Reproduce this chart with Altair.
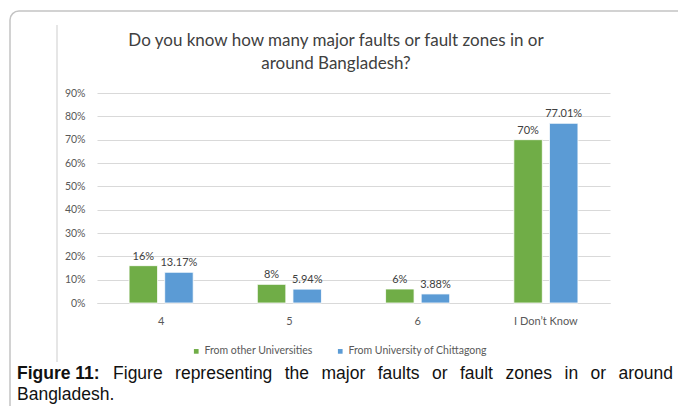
import altair as alt
import pandas as pd

# Survey answers: how many major faults / fault zones are in or around Bangladesh
categories = ["4", "5", "6", "I Don\u2019t Know"]
series_names = ["From other Universities", "From University of Chittagong"]
other_universities = [16, 8, 6, 70]
chittagong = [13.17, 5.94, 3.88, 77.01]
y_ticks = [0, 10, 20, 30, 40, 50, 60, 70, 80, 90]

title_lines = ["Do you know how many major faults or fault zones in or", "around Bangladesh?"]
caption_bold = "Figure 11:"
caption_line1 = ["Figure", "representing", "the", "major", "faults", "or",
                 "fault", "zones", "in", "or", "around"]
caption_line2 = "Bangladesh."

rows = []
for s, vals in zip(series_names, [other_universities, chittagong]):
    for c, v in zip(categories, vals):
        rows.append({"category": c, "series": s, "value": v / 100, "label": f"{v:g}%"})
df = pd.DataFrame(rows)

W, H = 513, 210          # plot area
PL, PT = 97, 93          # plot origin inside the page
FONT = "Lato"
GRAY = "#595959"

one = pd.DataFrame({"k": [0]})

x_enc = alt.X("category:N", sort=categories, title=None,
              scale=alt.Scale(paddingInner=0.5, paddingOuter=0.25),
              axis=alt.Axis(labelAngle=0, ticks=False, domainColor="#d9d9d9",
                            labelColor=GRAY, labelFont=FONT, labelFontSize=11,
                            labelPadding=12, grid=False))
y_enc = alt.Y("value:Q", title=None,
              scale=alt.Scale(domain=[0, 0.9], nice=False),
              axis=alt.Axis(values=[t / 100 for t in y_ticks], format=".0%",
                            ticks=False, domain=False, grid=True, gridColor="#d9d9d9",
                            labelOverlap=False, labelFlush=False,
                            labelColor=GRAY, labelFont=FONT, labelFontSize=10.5,
                            labelPadding=12))
off_enc = alt.XOffset("series:N", sort=series_names,
                      scale=alt.Scale(paddingInner=0.2, paddingOuter=0))

base = alt.Chart(df).encode(x=x_enc, xOffset=off_enc, y=y_enc)

bars = base.mark_bar(stroke="white", strokeWidth=0.8).encode(
    color=alt.Color("series:N", sort=series_names,
                    scale=alt.Scale(domain=series_names, range=["#70AD47", "#5B9BD5"]),
                    legend=alt.Legend(title=None, orient="none", direction="horizontal",
                                      legendX=94, legendY=253, symbolType="square",
                                      symbolSize=22, symbolStrokeWidth=0,
                                      labelFont=FONT, labelFontSize=10.5,
                                      labelColor=GRAY, columnPadding=22,
                                      symbolOffset=0, labelOffset=3)),
)

labels = base.mark_text(dy=-9, font=FONT, fontSize=11, color="#404040").encode(
    text="label:N",
)

frame = alt.Chart(one).mark_rect(fill="transparent", stroke="#c4c4c4",
                                 strokeWidth=1.5, cornerRadius=9).encode(
    x=alt.value(10 - PL), y=alt.value(11 - PT),
    x2=alt.value(760 - PL), y2=alt.value(500 - PT))

inner_edge = alt.Chart(one).mark_rule(color="#e6e6e6", strokeWidth=2).encode(
    x=alt.value(57 - PL), y=alt.value(25 - PT), y2=alt.value(362 - PT))

title = alt.Chart(one).mark_text(text=title_lines, font=FONT, fontSize=17,
                                 color="#404040", lineHeight=23, align="center",
                                 baseline="middle").encode(
    x=alt.value(336 - PL), y=alt.value(41 - PT))

# Justified caption: Arial/Liberation Sans advance widths (per 1000 em)
REG = {"a": 556, "b": 556, "c": 500, "d": 556, "e": 556, "f": 278, "g": 556, "h": 556,
       "i": 222, "j": 222, "k": 500, "l": 222, "m": 833, "n": 556, "o": 556, "p": 556,
       "q": 556, "r": 333, "s": 500, "t": 278, "u": 556, "v": 500, "w": 722, "x": 500,
       "y": 500, "z": 500, "F": 611, "B": 667, " ": 278, ".": 278}
BOLD = {"F": 611, "i": 278, "g": 611, "u": 611, "r": 389, "e": 556, " ": 278,
        "1": 556, ":": 333}
CAP_SIZE = 17.5
CAP_LEFT, CAP_RIGHT = 17, 673


def text_width(s, table):
    return sum(table[ch] for ch in s) * CAP_SIZE / 1000


widths = [text_width(caption_bold, BOLD)] + [text_width(w, REG) for w in caption_line1]
gap = (CAP_RIGHT - CAP_LEFT - sum(widths)) / (len(widths) - 1)
starts = []
pos = CAP_LEFT
for wd in widths:
    starts.append(pos)
    pos += wd + gap

cap_y1, cap_y2 = 379 - PT, 400 - PT
caption_layers = [
    alt.Chart(one).mark_text(text=caption_bold, font="Liberation Sans", fontWeight="bold",
                             fontSize=CAP_SIZE, color="#111111", align="left",
                             baseline="alphabetic").encode(
        x=alt.value(starts[0] - PL), y=alt.value(cap_y1))
]
for w, wx in zip(caption_line1, starts[1:]):
    caption_layers.append(
        alt.Chart(one).mark_text(text=w, font="Liberation Sans", fontSize=CAP_SIZE,
                                 color="#111111", align="left",
                                 baseline="alphabetic").encode(
            x=alt.value(wx - PL), y=alt.value(cap_y1)))
caption_layers.append(
    alt.Chart(one).mark_text(text=caption_line2, font="Liberation Sans", fontSize=CAP_SIZE,
                             color="#111111", align="left",
                             baseline="alphabetic").encode(
        x=alt.value(CAP_LEFT - PL), y=alt.value(cap_y2)))

chart = alt.layer(bars, labels, frame, inner_edge, title, *caption_layers).properties(
    width=W, height=H,
    autosize=alt.AutoSizeParams(type="none"),
    padding={"left": PL, "top": PT, "right": 678 - PL - W, "bottom": 406 - PT - H},
    background="white",
).configure_view(stroke=None)

chart.save("out.html", embed_options={"renderer": "svg", "actions": False})
